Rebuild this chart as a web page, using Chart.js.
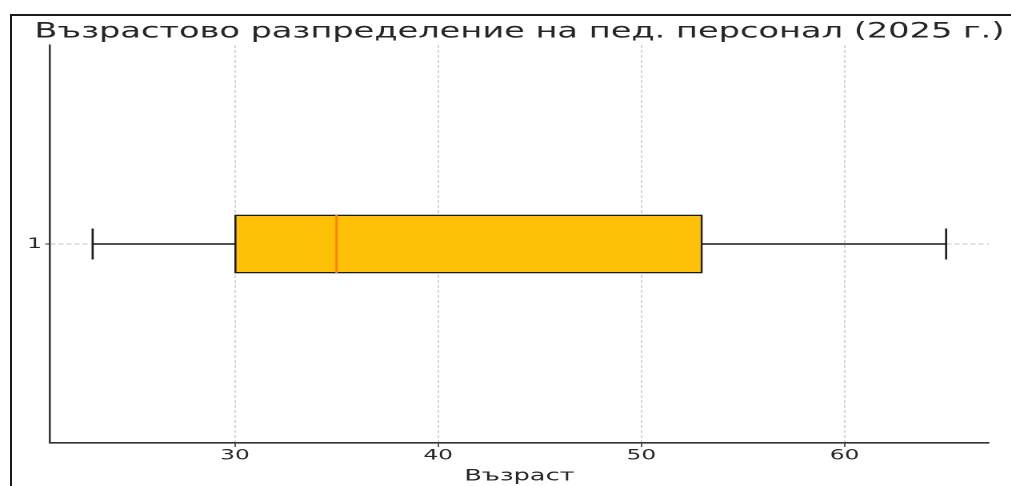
<!DOCTYPE html>
<html>
<head>
<meta charset="utf-8">
<script src="https://cdn.jsdelivr.net/npm/chart.js@4.4.1/dist/chart.umd.min.js"></script>
<style>
    html, body { margin: 0; padding: 0; background: #fff; overflow: hidden; }
    #frame { position: absolute; left: 10px; top: 14px; width: 1100px; height: 600px; border: 2px solid #1a1a1a; }
    /* the source picture is stretched sideways, so the chart is drawn narrow and scaled */
    #wrap { position: absolute; left: 0; top: 0; width: 632px; height: 486px; transform: scaleX(1.6); transform-origin: 0 0; }
</style>
</head>
<body>
<div id="frame"></div>
<div id="wrap"><canvas id="output"></canvas></div>
<script>
const title = "Възрастово разпределение на пед. персонал (2025 г.)";
const axisLabel = "Възраст";
const positions = [1];
const categories = ["1"];
const whiskerLow = [23];
const q1 = [30];
const median = [35];
const q3 = [53];
const whiskerHigh = [65];
const xTicks = [30, 40, 50, 60];

const boxHalf = 0.073;
const capHalf = 0.039;
const ink = "#1a1a1a";
const font = "'DejaVu Sans', sans-serif";

function segment(x1, y1, x2, y2, color, width) {
    return {
        type: "scatter",
        data: [{ x: x1, y: y1 }, { x: x2, y: y2 }],
        showLine: true,
        pointRadius: 0,
        borderColor: color,
        borderWidth: width,
        order: 1
    };
}

const datasets = [{
    type: "bar",
    indexAxis: "y",
    data: positions.map((p, i) => ({ y: p, x: [q1[i], q3[i]] })),
    backgroundColor: "#FFC107",
    borderColor: ink,
    borderWidth: 1.3,
    borderSkipped: false,
    barThickness: 58,
    order: 2
}];
positions.forEach((p, i) => {
    datasets.push(segment(whiskerLow[i], p, q1[i], p, ink, 1.4));
    datasets.push(segment(q3[i], p, whiskerHigh[i], p, ink, 1.4));
    datasets.push(segment(whiskerLow[i], p - capHalf, whiskerLow[i], p + capHalf, ink, 1.3));
    datasets.push(segment(whiskerHigh[i], p - capHalf, whiskerHigh[i], p + capHalf, ink, 1.3));
    datasets.push(segment(median[i], p - boxHalf, median[i], p + boxHalf, "#ff7f0e", 1.4));
});

// the built-in title squeezes text to the plot width, this one may run past it
const axesTitle = {
    id: "axesTitle",
    afterDraw(chart) {
        const { ctx, chartArea } = chart;
        ctx.save();
        ctx.font = "21px " + font;
        ctx.fillStyle = "#262626";
        ctx.textAlign = "center";
        ctx.textBaseline = "alphabetic";
        ctx.fillText(title, (chartArea.left + chartArea.right) / 2, 37.5);
        ctx.restore();
    }
};

const chart = new Chart(document.getElementById("output"), {
    type: "bar",
    data: { datasets: datasets },
    plugins: [axesTitle],
    options: {
        responsive: true,
        maintainAspectRatio: false,
        animation: false,
        devicePixelRatio: 2,
        indexAxis: "y",
        layout: { padding: { left: 0, right: 14, top: 45, bottom: 0 } },
        plugins: {
            legend: { display: false },
            tooltip: { enabled: false },
            title: { display: false }
        },
        scales: {
            x: {
                type: "linear",
                min: 20.9,
                max: 67.1,
                afterBuildTicks: (s) => { s.ticks = xTicks.map(v => ({ value: v })); },
                afterFit: (s) => { s.height = 43; },
                ticks: { color: "#262626", font: { family: font, size: 14.5 }, padding: 0 },
                grid: { color: "rgba(176,176,176,0.75)", lineWidth: 0.7, tickColor: "#333", tickLength: 4, tickWidth: 0.8 },
                border: { display: true, color: "#333", width: 1.6, dash: [3, 2] },
                title: { display: true, text: axisLabel, color: "#262626", font: { family: font, size: 16 }, padding: { top: 0, bottom: 0 } }
            },
            y: {
                type: "linear",
                min: 0.5,
                max: 1.5,
                offset: false,
                afterBuildTicks: (s) => { s.ticks = positions.map(v => ({ value: v })); },
                afterFit: (s) => { s.width = 31.25; },
                ticks: { color: "#262626", font: { family: font, size: 14.5 }, padding: 2, callback: (v, i) => categories[i] },
                grid: { offset: false, color: "rgba(176,176,176,0.75)", lineWidth: 1, tickColor: "#333", tickLength: 3, tickWidth: 1 },
                border: { display: true, color: "#333", width: 1.25, dash: [3, 2] }
            }
        }
    }
});
</script>
</body>
</html>
